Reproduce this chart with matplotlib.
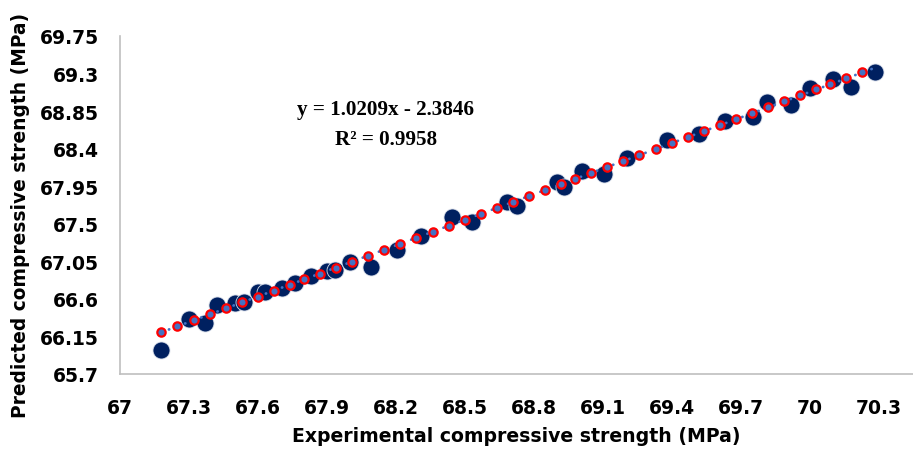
"""Scatter: predicted vs experimental compressive strength, with linear trendline."""
import matplotlib

matplotlib.use("Agg")
import matplotlib.pyplot as plt  # noqa: E402
import numpy as np  # noqa: E402

# Points (MPa)
experimental = [67.178, 67.300, 67.370, 67.422, 67.501, 67.540, 67.601, 67.631, 67.705,
                67.762, 67.832, 67.901, 67.936, 68.001, 68.093, 68.206, 68.310, 68.445,
                68.532, 68.685, 68.728, 68.902, 68.933, 69.011, 69.107, 69.207, 69.381,
                69.521, 69.630, 69.756, 69.817, 69.921, 70.004, 70.104, 70.182, 70.283]
predicted = [65.988, 66.359, 66.311, 66.527, 66.551, 66.563, 66.683, 66.683, 66.730,
             66.790, 66.874, 66.934, 66.946, 67.042, 66.982, 67.186, 67.353, 67.581,
             67.521, 67.761, 67.713, 67.999, 67.941, 68.132, 68.096, 68.288, 68.504,
             68.576, 68.731, 68.779, 68.959, 68.923, 69.127, 69.235, 69.138, 69.318]

# Trendline as printed on the chart
slope, intercept = 1.0209, -2.3846
r2 = 0.9958
# x positions of the red ring markers along the trendline
ring_x = [67.18, 67.25, 67.32, 67.39, 67.46, 67.53, 67.60, 67.67, 67.74, 67.80, 67.87,
          67.94, 68.01, 68.08, 68.15, 68.22, 68.29, 68.36, 68.43, 68.50, 68.57, 68.64,
          68.71, 68.78, 68.85, 68.92, 68.98, 69.05, 69.12, 69.19, 69.26, 69.33, 69.40,
          69.47, 69.54, 69.61, 69.68, 69.75, 69.82, 69.89, 69.96, 70.03, 70.09, 70.16,
          70.23]

x_ticks = [67, 67.3, 67.6, 67.9, 68.2, 68.5, 68.8, 69.1, 69.4, 69.7, 70, 70.3]
y_ticks = [65.7, 66.15, 66.6, 67.05, 67.5, 67.95, 68.4, 68.85, 69.3, 69.75]

fig = plt.figure(figsize=(9.13, 4.52), dpi=100)
ax = fig.add_axes([0.1314, 0.1704, 0.8686, 0.7478])

ax.scatter(experimental, predicted, s=150, color="#002060", edgecolors="#d9dfea",
           linewidths=0.6, zorder=3)

line_x = np.array([min(experimental), max(experimental)])
ax.plot(line_x, slope * line_x + intercept, color="#4472C4", lw=2.0,
        linestyle=(0, (0.1, 3.0)), dash_capstyle="round", zorder=4)

rx = np.array(ring_x)
ax.scatter(rx, slope * rx + intercept, s=36, facecolor="#4472C4", edgecolors="#FF0000",
           linewidths=1.6, zorder=5)

ax.text(0.335, 0.784, f"y = {slope}x - {abs(intercept)}", transform=ax.transAxes,
        ha="center", va="center", fontsize=15.2, fontweight="bold",
        family="Liberation Serif")
ax.text(0.335, 0.695, f"R² = {r2}", transform=ax.transAxes,
        ha="center", va="center", fontsize=15.2, fontweight="bold",
        family="Liberation Serif")

ax.set_xlim(67, 70.45)
ax.set_ylim(65.7, 69.75)
ax.set_xticks(x_ticks)
ax.set_xticklabels([f"{v:g}" for v in x_ticks])
ax.set_yticks(y_ticks)
ax.set_yticklabels([f"{v:g}" for v in y_ticks])
ax.tick_params(length=0, labelsize=13.5)
ax.tick_params(axis="x", pad=17)
ax.tick_params(axis="y", pad=15)
for lab in ax.get_xticklabels() + ax.get_yticklabels():
    lab.set_fontweight("bold")

for side in ("top", "right"):
    ax.spines[side].set_visible(False)
for side in ("left", "bottom"):
    ax.spines[side].set_color("#BFBFBF")
    ax.spines[side].set_linewidth(1.2)

ax.set_xlabel("Experimental compressive strength (MPa)", fontsize=13.6, fontweight="bold",
              labelpad=7)
ax.set_ylabel("Predicted compressive strength (MPa)", fontsize=13.4, fontweight="bold",
              labelpad=7)
ax.yaxis.label.set_y(0.473)

fig.savefig("out.png", dpi=100)
